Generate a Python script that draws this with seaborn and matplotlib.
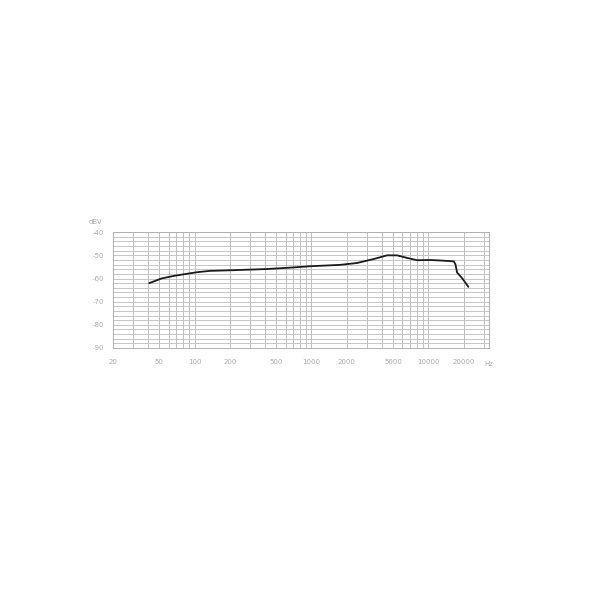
import numpy as np
import pandas as pd
import matplotlib
matplotlib.use("Agg")
import matplotlib.pyplot as plt
from matplotlib.ticker import FixedLocator, NullFormatter
import seaborn as sns

# ── data ──
freq_hz = [41, 52, 66, 85, 104, 135, 215, 415, 660, 975, 1760, 2450,
           3400, 4430, 5400, 6580, 8000, 10400, 13500, 16500, 17050,
           17600, 19400, 22000]
level_dbv = [-62.0, -60.0, -58.9, -58.0, -57.3, -56.7, -56.4, -55.9, -55.3,
             -54.7, -54.1, -53.3, -51.6, -50.0, -50.0, -51.1, -52.1, -52.0,
             -52.3, -52.6, -53.9, -57.4, -59.8, -63.6]

x_ticks = [20, 50, 100, 200, 500, 1000, 2000, 5000, 10000, 20000]
x_labels = ["20", "50", "100", "200", "500", "1000", "2000", "5000",
            "10000", "20000"]
y_ticks = [-40, -50, -60, -70, -80, -90]
y_labels = ["-40", "-50", "-60", "-70", "-80", "-90"]

df = pd.DataFrame({"freq": freq_hz, "level": level_dbv})

sns.set_style("white")
fig = plt.figure(figsize=(6, 6), dpi=100)
ax = fig.add_axes([0.188, 0.42, 0.627, 0.193])

# log grid: every 1-9 per decade, every 2 dB
minor_x = [m * 10 ** e for e in range(1, 5) for m in range(1, 10)]
minor_x = [v for v in minor_x if 20 <= v <= 33000]
for v in minor_x:
    ax.axvline(v, color="#b5b5b5", lw=0.6, zorder=0)
for v in range(-90, -39, 2):
    ax.axhline(v, color="#bdbdbd", lw=0.6, zorder=0)

sns.lineplot(data=df, x="freq", y="level", ax=ax, color="#1a1a1a",
             lw=1.3, zorder=3)

ax.set_xscale("log")
ax.set_xlim(20, 33000)
ax.set_ylim(-90, -40)
ax.xaxis.set_major_locator(FixedLocator(x_ticks))
ax.xaxis.set_minor_locator(FixedLocator([]))
ax.xaxis.set_minor_formatter(NullFormatter())
ax.set_xticks(x_ticks, x_labels)
ax.set_yticks(y_ticks, y_labels)
ax.tick_params(axis="both", labelsize=5, colors="#aaaaaa", length=0, pad=8)
ax.tick_params(axis="y", length=4, width=0.6, direction="out", pad=2)
ax.set_xlabel("")
ax.set_ylabel("")
for s in ax.spines.values():
    s.set_color("#b0b0b0")
    s.set_linewidth(0.7)

ax.text(-0.045, 1.06, "dBV", transform=ax.transAxes, fontsize=5,
        color="#aaaaaa", ha="center", va="bottom")
ax.text(1.0, -0.14, "Hz", transform=ax.transAxes, fontsize=5,
        color="#aaaaaa", ha="center", va="center")

fig.savefig("out.png", dpi=100, facecolor="white")
